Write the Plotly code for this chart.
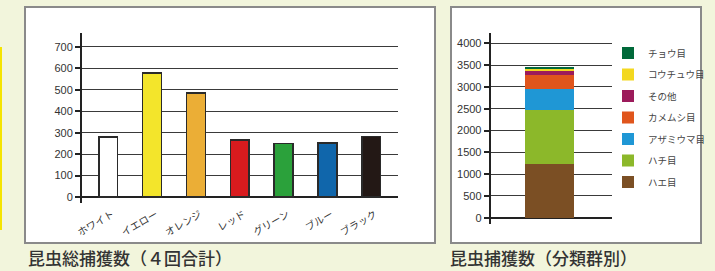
import plotly.graph_objects as go

# ---- data ----
colors_cat = ["ホワイト", "イエロー", "オレンジ", "レッド", "グリーン", "ブルー", "ブラック"]
total_catch = [280, 578, 485, 266, 250, 253, 282]
bar_colors = ["#ffffff", "#f3e52b", "#ebae36", "#d81b1e", "#2ba13b", "#1066ab", "#231815"]
y_ticks_left = [0, 100, 200, 300, 400, 500, 600, 700]

taxa = ["ハエ目", "ハチ目", "アザミウマ目", "カメムシ目", "その他", "コウチュウ目", "チョウ目"]
taxa_counts = [1232, 1239, 482, 321, 99, 46, 46]
taxa_colors = ["#7b4f24", "#8cb82a", "#1f97d5", "#e0551c", "#9c1b5b", "#f3d820", "#00693a"]
y_ticks_right = [0, 500, 1000, 1500, 2000, 2500, 3000, 3500, 4000]

W, H = 715, 271
def px(x): return x / W
def py(y): return (H - y) / H

fig = go.Figure()

fig.add_trace(go.Bar(
    x=list(range(len(colors_cat))), y=total_catch,
    marker=dict(color=bar_colors, line=dict(color="#2a2a2a", width=1.5)),
    width=0.43, xaxis="x", yaxis="y", showlegend=False, hoverinfo="x+y"))

n = len(taxa)
for i, (name, val, col) in enumerate(zip(taxa, taxa_counts, taxa_colors)):
    fig.add_trace(go.Bar(
        x=[0], y=[val], name=name, marker=dict(color=col, line=dict(width=0)),
        width=0.405, xaxis="x2", yaxis="y2", legendgroup=name, legendrank=n - i))

axis_font = dict(family="Liberation Sans, Arial, sans-serif", size=11, color="#333")

fig.update_layout(
    width=W, height=H,
    autosize=False,
    margin=dict(l=0, r=0, t=0, b=0, pad=0, autoexpand=False),
    paper_bgcolor="#f2f5dc",
    plot_bgcolor="rgba(0,0,0,0)",
    barmode="stack",
    xaxis=dict(domain=[px(82), px(398)], range=[-0.6, 6.61], automargin=False,
               tickmode="array", tickvals=list(range(len(colors_cat))), ticktext=colors_cat,
               tickangle=-30, showgrid=False, zeroline=False, showline=False, ticks="",
               ticklabelshift=4, ticklabelstandoff=3,
               tickfont=dict(family="Noto Sans CJK JP", size=10, color="#333")),
    yaxis=dict(domain=[py(203), py(33)], range=[-28, 765], automargin=False,
               tickmode="array", tickvals=y_ticks_left,
               showgrid=True, gridcolor="#3a3a3a", gridwidth=1.4,
               zeroline=True, zerolinecolor="#222", zerolinewidth=1.6,
               showline=True, linecolor="#222", linewidth=2,
               ticks="outside", ticklen=5, tickcolor="#222", tickwidth=1.5,
               tickfont=axis_font),
    xaxis2=dict(domain=[px(490.7), px(611.7)], range=[-0.486, 0.514], automargin=False,
                showticklabels=False, showgrid=False, zeroline=False, showline=False, ticks=""),
    yaxis2=dict(domain=[py(224), py(33)], range=[-145, 4237], anchor="x2", automargin=False,
                tickmode="array", tickvals=y_ticks_right,
                showgrid=True, gridcolor="#3a3a3a", gridwidth=1.4,
                zeroline=True, zerolinecolor="#222", zerolinewidth=1.6,
                showline=True, linecolor="#222", linewidth=2,
                ticks="outside", ticklen=5, tickcolor="#222", tickwidth=1.5,
                tickfont=axis_font),
    legend=dict(x=px(608), y=py(38.5), xanchor="left", yanchor="top",
                traceorder="grouped", tracegroupgap=2.5,
                bgcolor="rgba(0,0,0,0)",
                font=dict(family="Noto Sans CJK JP", size=9.5, color="#444")),
    shapes=[
        dict(type="rect", xref="paper", yref="paper", x0=px(25), x1=px(435), y0=py(243), y1=py(7),
             fillcolor="#ffffff", line=dict(color="#8a8a8a", width=2), layer="below"),
        dict(type="rect", xref="paper", yref="paper", x0=px(451), x1=px(701), y0=py(243), y1=py(7),
             fillcolor="#ffffff", line=dict(color="#8a8a8a", width=2), layer="below"),
        dict(type="rect", xref="paper", yref="paper", x0=0, x1=px(2), y0=py(230), y1=py(47),
             fillcolor="#f5e400", line=dict(width=0), layer="below"),
    ],
    annotations=[
        dict(text="昆虫総捕獲数（４回合計）", xref="paper", yref="paper", x=px(26), y=py(257),
             xanchor="left", yanchor="middle", showarrow=False,
             font=dict(family="Noto Sans CJK JP", size=17, color="#333", weight=500)),
        dict(text="昆虫捕獲数（分類群別）", xref="paper", yref="paper", x=px(448), y=py(257),
             xanchor="left", yanchor="middle", showarrow=False,
             font=dict(family="Noto Sans CJK JP", size=17, color="#333", weight=500)),
    ],
)

fig.write_html("out.html", config={"displayModeBar": False},
               post_script="document.body.style.margin='0';document.body.style.background='#f2f5dc';")
